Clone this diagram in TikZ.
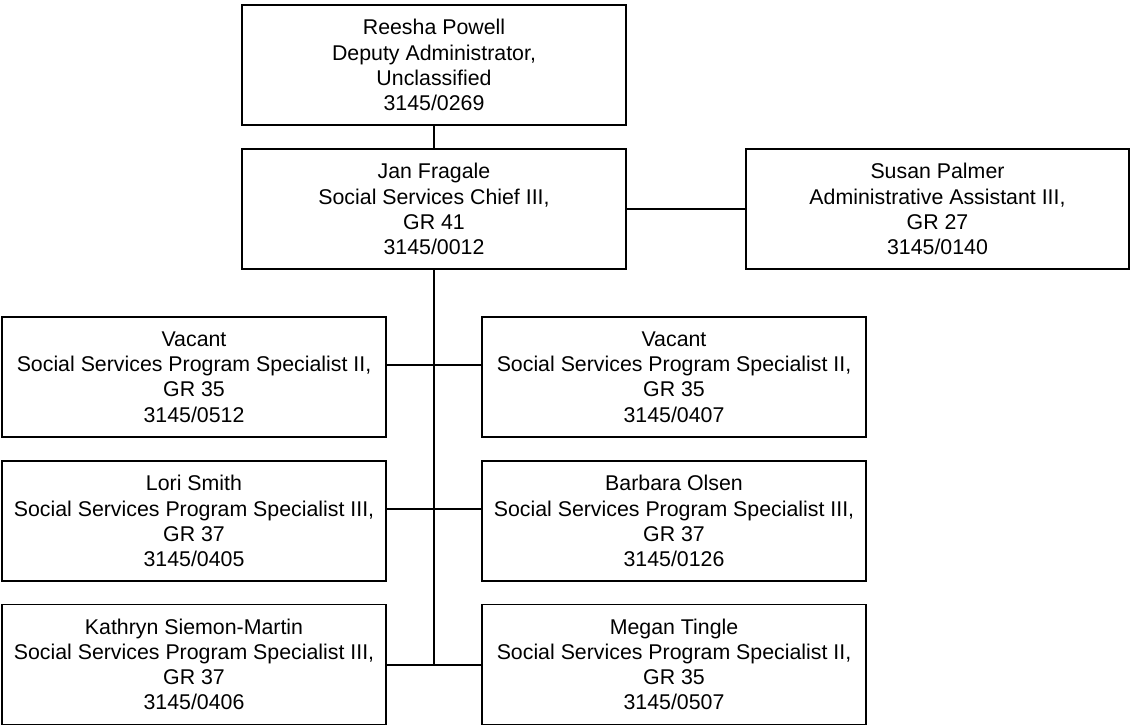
\documentclass[tikz,border=0pt]{standalone}
\usepackage{fontspec}
\setmainfont{Liberation Sans}
\begin{document}
\begin{tikzpicture}[x=0.75pt,y=-0.75pt,
  every path/.style={line width=1.4pt},
  pbox/.style={draw, line width=1.4pt, rectangle, minimum width=384*0.75pt, minimum height=120*0.75pt, inner sep=0pt, align=center, font=\fontsize{16}{18.9}\selectfont},
  link/.style={draw, line width=1.4pt}]
\useasboundingbox (0,0) rectangle (1131,726);
\node[pbox] (reesha) at (434,65) {Reesha Powell\\Deputy Administrator,\\Unclassified\\3145/0269};
\node[pbox] (jan) at (434,209) {Jan Fragale\\Social Services Chief III,\\GR 41\\3145/0012};
\node[pbox, minimum width=383*0.75pt] (susan) at (937.5,209) {Susan Palmer\\Administrative Assistant III,\\GR 27\\3145/0140};
\node[pbox] (l1) at (194,377) {Vacant\\Social Services Program Specialist II,\\GR 35\\3145/0512};
\node[pbox] (r1) at (674,377) {Vacant\\Social Services Program Specialist II,\\GR 35\\3145/0407};
\node[pbox] (l2) at (194,521) {Lori Smith\\Social Services Program Specialist III,\\GR 37\\3145/0405};
\node[pbox] (r2) at (674,521) {Barbara Olsen\\Social Services Program Specialist III,\\GR 37\\3145/0126};
\node[pbox] (l3) at (194,664.5) {Kathryn Siemon-Martin\\Social Services Program Specialist III,\\GR 37\\3145/0406};
\node[pbox] (r3) at (674,664.5) {Megan Tingle\\Social Services Program Specialist II,\\GR 35\\3145/0507};
\coordinate (j1) at (434,365);
\coordinate (j2) at (434,509);
\coordinate (j3) at (434,665);
\draw[link] (reesha.south) -- (jan.north);
\draw[link] (jan.east) -- (susan.west);
\draw[link] (jan.south) -- (j3);
\draw[link] (l1.east |- j1) -- (r1.west |- j1);
\draw[link] (l2.east |- j2) -- (r2.west |- j2);
\draw[link] (l3.east |- j3) -- (r3.west |- j3);
\end{tikzpicture}
\end{document}
